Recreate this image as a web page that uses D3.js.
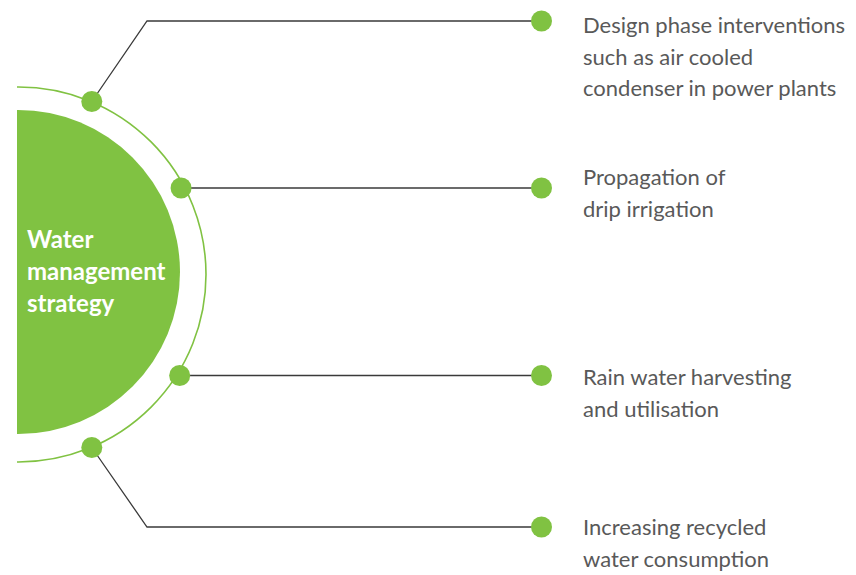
<!DOCTYPE html>
<html><head><meta charset="utf-8">
<script src="https://cdn.jsdelivr.net/npm/d3@7"></script>
<style>body{margin:0;background:#fff}svg{display:block}</style>
</head><body>
<script>
const title = ["Water", "management", "strategy"];
const labels = [
  ["Design phase interventions", "such as air cooled", "condenser in power plants"],
  ["Propagation of", "drip irrigation"],
  ["Rain water harvesting", "and utilisation"],
  ["Increasing recycled", "water consumption"]
];
const lineY = [21, 188, 375.5, 527];      // y of horizontal connector
const dotY = [101.5, 188, 375.5, 447.5];   // y where connector meets ring
const textY = [33, 185, 385, 535];         // first baseline of each label
const elbowX = [147, null, null, 147];
const dotShift = [1.5, -3.3, 3.7, 1.5];

const W = 856, H = 575;
const green = "#80c242", lineCol = "#3a3a3a", textCol = "#595959";
const cx = 18, cyFill = 272, rFill = 162, cyRing = 274.5, rRing = 187.5, dotR = 10.5;
const endX = 541.5, textX = 583;

const svg = d3.select("body").append("svg").attr("width", W).attr("height", H);
svg.append("defs").append("clipPath").attr("id", "clip")
  .append("rect").attr("x", 17).attr("y", 0).attr("width", W).attr("height", H);

const g = svg.append("g").attr("clip-path", "url(#clip)");
g.append("circle").attr("cx", cx + 0.5).attr("cy", cyRing).attr("r", rRing)
  .attr("fill", "none").attr("stroke", green).attr("stroke-width", 1.6);
g.append("circle").attr("cx", cx).attr("cy", cyFill).attr("r", rFill).attr("fill", green);

const items = labels.map((l, i) => {
  const dy = dotY[i] - cyRing;
  const dx = Math.sqrt(rRing * rRing - dy * dy) + dotShift[i];
  return { lines: l, y: lineY[i], dx: cx + dx, dy: dotY[i], ex: elbowX[i], ty: textY[i] };
});

const line = d3.line();
svg.selectAll("path.conn").data(items).join("path").attr("class", "conn")
  .attr("d", d => d.ex != null
    ? line([[d.dx, d.dy], [d.ex, d.y], [endX, d.y]])
    : line([[d.dx, d.dy], [endX, d.y]]))
  .attr("fill", "none").attr("stroke", lineCol).attr("stroke-width", 1.3);

svg.selectAll("circle.sd").data(items).join("circle").attr("class", "sd")
  .attr("cx", d => d.dx).attr("cy", d => d.dy).attr("r", dotR).attr("fill", green);
svg.selectAll("circle.ed").data(items).join("circle").attr("class", "ed")
  .attr("cx", endX).attr("cy", d => d.y).attr("r", dotR).attr("fill", green);

const txt = svg.selectAll("text.lab").data(items).join("text").attr("class", "lab")
  .attr("font-family", "Lato, 'Open Sans', sans-serif").attr("font-size", 22)
  .attr("fill", textCol);
txt.each(function(d) {
  d3.select(this).selectAll("tspan").data(d.lines).join("tspan")
    .attr("x", textX).attr("y", (s, k) => d.ty + k * 31.7).text(s => s);
});

svg.append("text").attr("font-family", "Lato, 'Open Sans', sans-serif")
  .attr("font-size", 24).attr("font-weight", "bold").attr("fill", "#fff")
  .selectAll("tspan").data(title).join("tspan")
  .attr("x", 27).attr("y", (s, k) => 248 + k * 32).text(s => s);
</script>
</body></html>
